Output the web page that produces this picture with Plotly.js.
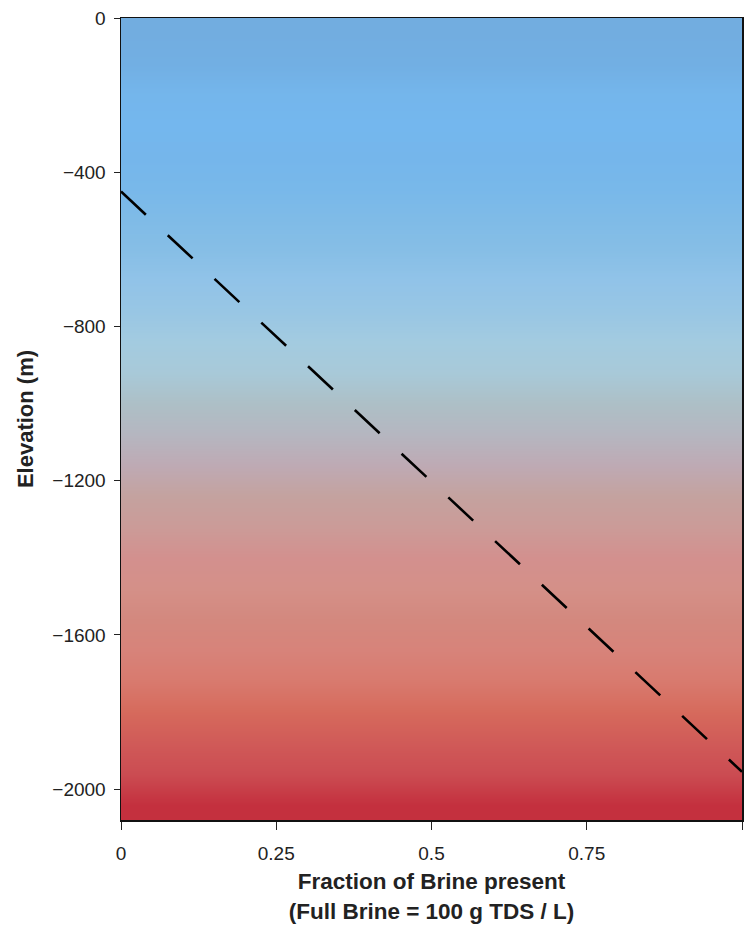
<!DOCTYPE html>
<html>
<head>
<meta charset="utf-8">
<script src="https://cdn.plot.ly/plotly-3.0.1.min.js"></script>
<style>html,body{margin:0;padding:0;background:#fff;}#chart{width:744px;height:926px;}</style>
</head>
<body>
<div id="chart"></div>
<script>
// Background band elevations (m) and colours
const bandElevation = [-40,-120,-200,-280,-360,-440,-520,-600,-680,-760,-840,-920,-1000,-1080,-1160,-1240,-1320,-1400,-1480,-1560,-1640,-1720,-1800,-1880,-1960,-2040];
const bandColor = ['#72ade0','#72afe3','#74b6ec','#74b7ee','#75b6eb','#78b8ea','#7fbbe7','#86bee6','#91c3e8','#98c6e4','#a3cbe0','#a8c9d8','#adbfc6','#b5b6c0','#beaab4','#c4a29f','#cb9b98','#d3908e','#d49088','#d3887e','#d7837a','#d87a6e','#d66a5c','#d05a58','#cb4c52','#c4303e'];
// Mixing line: fraction of brine vs elevation
const brineFraction = [0, 1];
const mixElevation = [-450, -1955];
// Axis ticks
const xTicks = [0, 0.25, 0.5, 0.75, 1];
const xTickText = ['0', '0.25', '0.5', '0.75', '1'];
const yTicks = [0, -400, -800, -1200, -1600, -2000];

const n = bandColor.length;
const colorscale = bandColor.map((c, i) => [i / (n - 1), c]);
const zRows = bandElevation.map((e, i) => [i, i]);

const traces = [
  {
    type: 'heatmap',
    x: [0, 1],
    y: bandElevation,
    z: zRows,
    zmin: 0, zmax: n - 1,
    colorscale: colorscale,
    showscale: false,
    zsmooth: 'best',
    hoverinfo: 'skip'
  },
  {
    type: 'scatter',
    mode: 'lines',
    x: brineFraction,
    y: mixElevation,
    line: {color: '#000', width: 2.6, dash: '34px,30px'},
    hoverinfo: 'skip'
  }
];

const font = {family: 'Liberation Sans, Arial, sans-serif', color: '#222'};
const layout = {
  width: 744, height: 926,
  margin: {l: 121, r: 2, t: 18, b: 106},
  paper_bgcolor: '#fff', plot_bgcolor: '#fff',
  showlegend: false,
  font: Object.assign({size: 16}, font),
  xaxis: {
    range: [0, 1],
    tickvals: xTicks, ticktext: xTickText,
    ticks: 'outside', ticklen: 8, tickwidth: 1, tickcolor: '#222',
    ticklabelstandoff: 8,
    showline: true, linecolor: '#111', linewidth: 1.5, mirror: true,
    showgrid: false, zeroline: false,
    tickfont: Object.assign({size: 19}, font),
    title: {text: '<b>Fraction of Brine present</b><br><b>(Full Brine = 100 g TDS / L)</b>', font: Object.assign({size: 22.5}, font), standoff: 10}
  },
  yaxis: {
    range: [-2080, 0],
    tickvals: yTicks,
    ticks: 'outside', ticklen: 6, tickwidth: 1, tickcolor: '#222',
    ticklabelstandoff: 4,
    showline: true, linecolor: '#111', linewidth: 1.5, mirror: true,
    showgrid: false, zeroline: false,
    tickfont: Object.assign({size: 19}, font),
    title: {text: '<b>Elevation (m)</b>', font: Object.assign({size: 22}, font), standoff: 12}
  }
};

Plotly.newPlot('chart', traces, layout, {displayModeBar: false, staticPlot: true});
</script>
</body>
</html>
